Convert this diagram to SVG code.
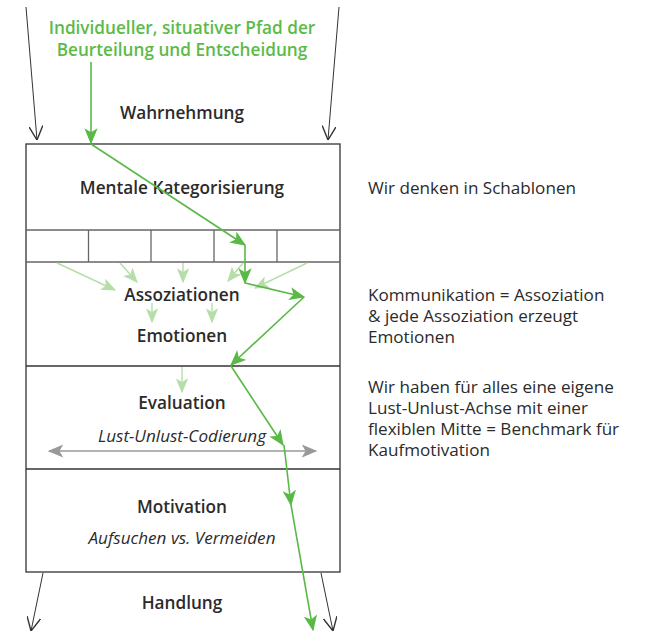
<svg xmlns="http://www.w3.org/2000/svg" width="648" height="632" viewBox="0 0 648 632">
<style>
text{font-family:"Open Sans","Noto Sans","Liberation Sans",sans-serif;fill:#2b2b2b}
.h{font-size:17.2px;font-weight:600;text-anchor:middle}
.i{font-size:17.1px;font-style:italic;text-anchor:middle}
.g{font-size:17.2px;font-weight:600;fill:#5cbb48;text-anchor:middle}
.r{font-size:17.1px}
.box{fill:none;stroke:#333;stroke-width:1.3}
.cell{fill:none;stroke:#666;stroke-width:1.3}
.blk{stroke:#333;stroke-width:1;fill:none}
.grn{stroke:#5ab946;stroke-width:1.6;fill:none}
.lgt{stroke:#b5dea8;stroke-width:1.4;fill:none}
</style>
<defs>
<marker id="open" viewBox="0 0 10 10" refX="10" refY="5" markerWidth="14" markerHeight="14" markerUnits="userSpaceOnUse" orient="auto"><path d="M0,0 L10,5 L0,10" fill="none" stroke="#333" stroke-width="1"/></marker>
<marker id="ga" viewBox="0 0 12 10" refX="11" refY="5" markerWidth="16" markerHeight="14" markerUnits="userSpaceOnUse" orient="auto"><path d="M0,0 L12,5 L0,10 L3,5 Z" fill="#5ab946"/></marker>
<marker id="la" viewBox="0 0 12 10" refX="11" refY="5" markerWidth="15" markerHeight="13" markerUnits="userSpaceOnUse" orient="auto"><path d="M0,0 L12,5 L0,10 L3,5 Z" fill="#b5dea8"/></marker>
<marker id="gr" viewBox="0 0 12 10" refX="11" refY="5" markerWidth="16" markerHeight="13" markerUnits="userSpaceOnUse" orient="auto-start-reverse"><path d="M0,0 L12,5 L0,10 L3,5 Z" fill="#999"/></marker>
</defs>
<g id="frame">
<rect class="box" x="26" y="144" width="314" height="428"/>
<line class="box" x1="26" y1="366" x2="340" y2="366"/>
<line class="box" x1="26" y1="469" x2="340" y2="469"/>
</g>
<g id="categories">
<line class="cell" x1="26" y1="230" x2="340" y2="230"/>
<line class="cell" x1="26" y1="262" x2="340" y2="262"/>
<line class="cell" x1="88.5" y1="230" x2="88.5" y2="262"/>
<line class="cell" x1="151" y1="230" x2="151" y2="262"/>
<line class="cell" x1="214" y1="230" x2="214" y2="262"/>
<line class="cell" x1="277" y1="230" x2="277" y2="262"/>
</g>
<g id="title"><text class="g" x="182" y="33.5">Individueller, situativer Pfad der</text><text class="g" x="182" y="55.5">Beurteilung und Entscheidung</text></g>
<g id="wahrnehmung"><text class="h" x="182" y="119">Wahrnehmung</text></g>
<g id="kategorisierung"><text class="h" x="182" y="194">Mentale Kategorisierung</text></g>
<g id="assoziationen"><text class="h" x="182" y="301">Assoziationen</text></g>
<g id="emotionen"><text class="h" x="182" y="342">Emotionen</text></g>
<g id="evaluation"><text class="h" x="182" y="409">Evaluation</text><text class="i" x="182" y="442">Lust-Unlust-Codierung</text></g>
<g id="motivation"><text class="h" x="182" y="513">Motivation</text><text class="i" x="182" y="544">Aufsuchen vs. Vermeiden</text></g>
<g id="handlung"><text class="h" x="182" y="609">Handlung</text></g>
<g id="notes">
<text class="r" x="368" y="194">Wir denken in Schablonen</text>
<text class="r" x="368" y="301">Kommunikation = Assoziation</text>
<text class="r" x="368" y="322">&amp; jede Assoziation erzeugt</text>
<text class="r" x="368" y="343">Emotionen</text>
<text class="r" x="368" y="393">Wir haben für alles eine eigene</text>
<text class="r" x="368" y="414">Lust-Unlust-Achse mit einer</text>
<text class="r" x="368" y="435">flexiblen Mitte = Benchmark für</text>
<text class="r" x="368" y="456">Kaufmotivation</text>
</g>
<g id="connectors">
<line class="blk" x1="26" y1="7" x2="37" y2="140" marker-end="url(#open)"/>
<line class="blk" x1="339" y1="7" x2="328" y2="140" marker-end="url(#open)"/>
<line class="blk" x1="43" y1="573" x2="31" y2="631" marker-end="url(#open)"/>
<line class="blk" x1="321" y1="573" x2="333" y2="631" marker-end="url(#open)"/>
<line class="lgt" x1="57" y1="263" x2="115" y2="290" marker-end="url(#la)"/>
<line class="lgt" x1="120" y1="263" x2="137" y2="282" marker-end="url(#la)"/>
<line class="lgt" x1="183" y1="263" x2="183" y2="282" marker-end="url(#la)"/>
<line class="lgt" x1="243" y1="263" x2="228" y2="281" marker-end="url(#la)"/>
<line class="lgt" x1="307" y1="263" x2="255" y2="288" marker-end="url(#la)"/>
<line class="lgt" x1="152" y1="303" x2="152" y2="322" marker-end="url(#la)"/>
<line class="lgt" x1="212" y1="303" x2="212" y2="322" marker-end="url(#la)"/>
<line class="lgt" x1="182" y1="367" x2="182" y2="392" marker-end="url(#la)"/>
<line x1="49" y1="451" x2="316" y2="451" stroke="#999" stroke-width="1.6" marker-start="url(#gr)" marker-end="url(#gr)"/>
<line class="grn" x1="91" y1="62" x2="91" y2="143" marker-end="url(#ga)"/>
<line class="grn" x1="91" y1="144" x2="245" y2="245" marker-end="url(#ga)"/>
<line class="grn" x1="245" y1="245" x2="245" y2="283" marker-end="url(#ga)"/>
<line class="grn" x1="245" y1="283" x2="304" y2="297" marker-end="url(#ga)"/>
<line class="grn" x1="304" y1="297" x2="231" y2="365" marker-end="url(#ga)"/>
<line class="grn" x1="231" y1="366" x2="283" y2="445" marker-end="url(#ga)"/>
<line class="grn" x1="284" y1="445" x2="291" y2="505" marker-end="url(#ga)"/>
<line class="grn" x1="291" y1="505" x2="313" y2="630" marker-end="url(#ga)"/>
</g>
</svg>
